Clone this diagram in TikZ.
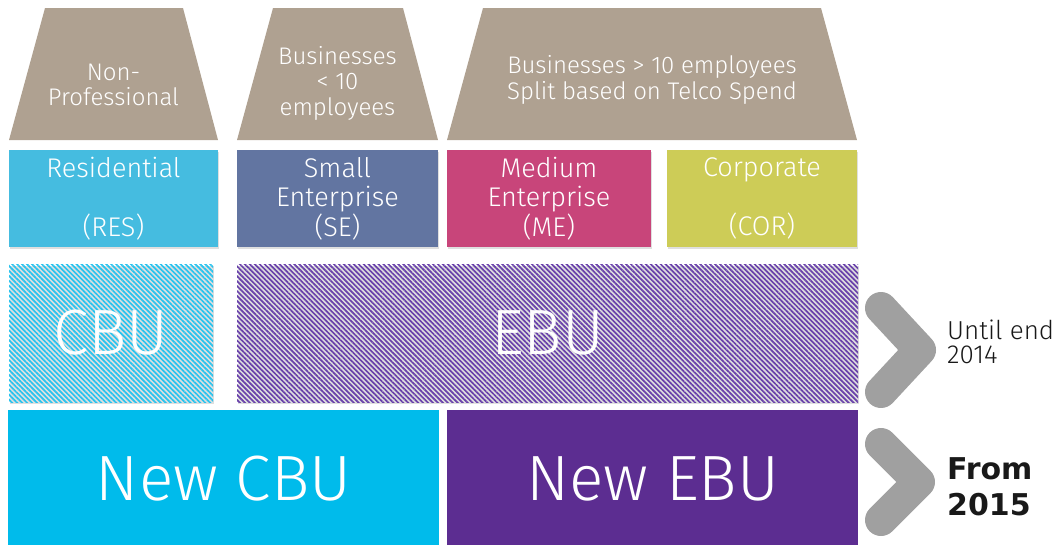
\documentclass[tikz,border=0pt]{standalone}
\usepackage{fontspec}
\setmainfont{Fira Sans}[UprightFont={* Light}, BoldFont={* Bold}]
\newfontfamily\yearbold{DejaVu Sans}[UprightFont={* Bold}]
\usetikzlibrary{patterns.meta,shadows}

\definecolor{taupe}{RGB}{175,161,145}
\definecolor{resblue}{RGB}{69,188,224}
\definecolor{seblue}{RGB}{98,117,161}
\definecolor{memag}{RGB}{200,69,122}
\definecolor{corlime}{RGB}{205,204,87}
\definecolor{cbucyan}{RGB}{0,187,235}
\definecolor{ebupurple}{RGB}{92,45,145}
\definecolor{cbuhatch}{RGB}{40,195,238}
\definecolor{ebuhatch}{RGB}{105,65,170}
\definecolor{chevgrey}{RGB}{160,160,160}
\definecolor{inkdark}{RGB}{25,25,25}

\tikzset{
  headshape/.style={fill=taupe},
  headtext/.style={text=white, align=center, font=\fontsize{24}{25.5}\selectfont},
  segbox/.style={fill=#1, text=white, align=center, inner sep=0pt,
    font=\fontsize{27}{29.5}\selectfont,
    drop shadow={shadow xshift=1pt, shadow yshift=-1.5pt, opacity=0.25}},
  hatchbox/.style={pattern={Lines[angle=-45,distance=3.5pt,line width=1.7pt]},
    pattern color=#1, text=white, inner sep=0pt,
    font=\fontsize{64}{64}\selectfont,
    drop shadow={shadow xshift=1pt, shadow yshift=-1.5pt, opacity=0.25}},
  unitbox/.style={fill=#1, text=white, inner sep=0pt,
    font=\fontsize{64}{64}\selectfont},
  chevron/.style={draw=chevgrey, line width=32pt, line cap=round, line join=round},
  yeartext/.style={text=inkdark, align=left, inner sep=0pt, anchor=west}
}

\begin{document}
\begin{tikzpicture}[x=1pt, y=-1pt]
\useasboundingbox (0,0) rectangle (1060,544);

% customer groups
\fill[headshape] (9,140) -- (45,8) -- (183,8) -- (218,140) -- cycle;
\fill[headshape] (237,140) -- (273,8) -- (403,8) -- (438,140) -- cycle;
\fill[headshape] (447,140) -- (483,8) -- (821,8) -- (857,140) -- cycle;
\node[headtext] (nonpro) at (113.5,85) {Non-\\Professional};
\node[headtext] (small10) at (337.5,83) {Businesses\\< 10\\employees};
\node[headtext] (big10) at (652,80) {Businesses > 10 employees\\Split based on Telco Spend};

% segments
\node[segbox=resblue, minimum width=209pt, minimum height=97pt] (res) at (113.5,198.5) {Residential\\\mbox{}\\(RES)};
\node[segbox=seblue, minimum width=201pt, minimum height=97pt] (se) at (337.5,198.5) {Small\\Enterprise\\(SE)};
\node[segbox=memag, minimum width=204pt, minimum height=97pt] (me) at (549,198.5) {Medium\\Enterprise\\(ME)};
\node[segbox=corlime, minimum width=190pt, minimum height=97pt] (cor) at (762,198.5) {Corporate\\\mbox{}\\(COR)};

% business units until end 2014
\node[hatchbox=cbuhatch, minimum width=204pt, minimum height=138pt] (cbu) at (111,333) {CBU};
\node[hatchbox=ebuhatch, minimum width=621pt, minimum height=138pt] (ebu) at (547.5,333) {EBU};

% business units from 2015
\node[unitbox=cbucyan, minimum width=431pt, minimum height=150pt] (ncbu) at (223.5,485) {};
\node[unitbox=ebupurple, minimum width=411pt, minimum height=150pt] (nebu) at (652.5,485) {};
\node[text=white, font=\fontsize{64}{64}\selectfont, inner sep=0pt] (ncbutext) at (223.5,479) {New CBU};
\node[text=white, font=\fontsize{64}{64}\selectfont, inner sep=0pt] (nebutext) at (652.5,479) {New EBU};

% chevrons
\coordinate (c1a) at (881,308);
\coordinate (c1b) at (920,350);
\coordinate (c1c) at (881,392);
\draw[chevron] (c1a) -- (c1b) -- (c1c);
\coordinate (c2a) at (881,444);
\coordinate (c2b) at (919,482);
\coordinate (c2c) at (881,520);
\draw[chevron] (c2a) -- (c2b) -- (c2c);

\node[yeartext, font=\fontsize{26}{24}\selectfont] (until) at (947,342) {Until end\\2014};
\node[yeartext, font=\yearbold\fontsize{30}{36}\selectfont] (from) at (947,487) {From\\2015};
\end{tikzpicture}
\end{document}
